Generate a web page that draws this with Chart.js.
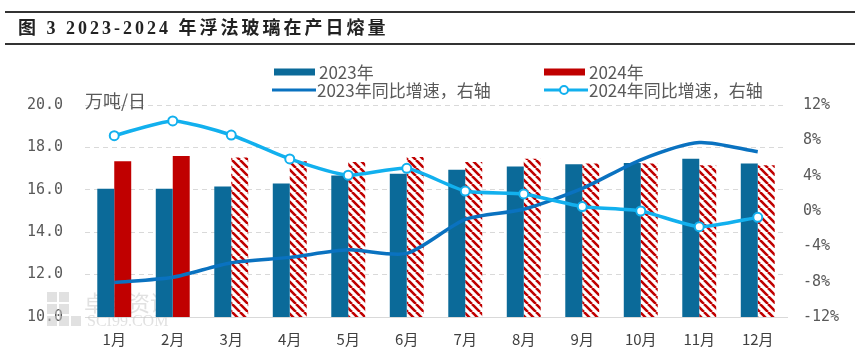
<!DOCTYPE html>
<html>
<head>
<meta charset="utf-8">
<script src="https://cdn.jsdelivr.net/npm/chart.js@4.4.0/dist/chart.umd.min.js"></script>
<style>
  body { margin: 0; background: #fff; }
  #wrap { position: relative; width: 859px; height: 361px; }
  #glassChart { position: absolute; left: 0; top: 0; }
  #title {
    position: absolute; left: 5px; right: 4px; top: 11px; height: 30px;
    border-top: 2px solid #333; border-bottom: 2px solid #333;
    font: bold 18px "Liberation Serif", "Noto Sans CJK SC", serif; color: #222;
    letter-spacing: 3px;
    line-height: 30px; padding-left: 13px;
  }
</style>
</head>
<body>
<div id="wrap">
  <canvas id="glassChart" width="859" height="361"></canvas>
  <div id="title">图 3 2023-2024 年浮法玻璃在产日熔量</div>
</div>
<script>
// data
const months = ['1月', '2月', '3月', '4月', '5月', '6月', '7月', '8月', '9月', '10月', '11月', '12月'];
const output2023 = [16.05, 16.05, 16.15, 16.3, 16.68, 16.76, 16.95, 17.1, 17.2, 17.27, 17.47, 17.24];
const output2024 = [17.35, 17.6, 17.52, 17.35, 17.31, 17.55, 17.31, 17.47, 17.24, 17.24, 17.16, 17.16];
const growth2023 = [-8.1, -7.5, -5.85, -5.25, -4.4, -4.8, -0.95, 0.2, 2.55, 5.8, 7.75, 6.7];
const growth2024 = [8.53, 10.2, 8.6, 5.9, 4.05, 4.83, 2.26, 1.93, 0.5, 0.0, -1.78, -0.72];
const actual2024Months = 2; // later months drawn hatched

const blue = '#0b6a99';
const red = '#c00000';
const lineBlue = '#0a72c0';
const lightBlue = '#12b0ee';

function stripePattern(color) {
  const c = document.createElement('canvas');
  c.width = 8; c.height = 8;
  const g = c.getContext('2d');
  g.fillStyle = '#fff';
  g.fillRect(0, 0, 8, 8);
  g.strokeStyle = color;
  g.lineWidth = 2.6;
  g.beginPath();
  for (const k of [-8, 0, 8]) {
    g.moveTo(k, 0);
    g.lineTo(k + 8, 8);
  }
  g.stroke();
  return g.createPattern(c, 'repeat');
}
const hatch = stripePattern(red);

// legend in two columns, plus axis unit and watermark
const legendSpots = [[274, 72], [544, 72], [272, 90], [544, 90]];
const extrasPlugin = {
  id: 'extras',
  beforeDatasetsDraw(chart) {
    const c = chart.ctx;
    c.save();
    c.fillStyle = 'rgba(200,200,200,0.55)';
    [[47, 292], [59, 292], [47, 304], [59, 304], [47, 316], [59, 316], [71, 316]].forEach(([x, y]) => c.fillRect(x, y, 10, 10));
    c.font = '22px "Noto Sans CJK SC"';
    c.textBaseline = 'middle';
    c.fillText('卓创资讯', 84, 303);
    c.font = '16px "Liberation Serif"';
    c.fillText('SCI99.COM', 87, 322);
    c.restore();
  },
  afterDraw(chart) {
    const c = chart.ctx;
    c.save();
    c.textBaseline = 'middle';
    c.font = '18px "Noto Sans CJK SC"';
    c.fillStyle = '#595959';
    c.fillText('万吨/日', 85, 101);
    c.font = '17px "Noto Sans CJK SC"';
    chart.data.datasets.forEach((ds, i) => {
      const [x, y] = legendSpots[i];
      if (ds.type === 'bar') {
        c.fillStyle = i === 0 ? blue : red;
        c.fillRect(x, y - 3.5, 41, 7);
      } else {
        c.strokeStyle = ds.borderColor;
        c.lineWidth = 3;
        c.beginPath();
        c.moveTo(x, y);
        c.lineTo(x + 44, y);
        c.stroke();
        if (ds.pointRadius > 0) {
          c.beginPath();
          c.arc(x + 20, y, 4, 0, Math.PI * 2);
          c.fillStyle = '#fff';
          c.fill();
          c.lineWidth = 2;
          c.stroke();
        }
      }
      c.fillStyle = '#595959';
      c.fillText(ds.label, x + 45, y + 1);
    });
    c.restore();
  }
};

const chart = new Chart(document.getElementById('glassChart').getContext('2d'), {
  data: {
    labels: months,
    datasets: [{
      type: 'bar',
      label: '2023年',
      data: output2023,
      backgroundColor: blue,
      yAxisID: 'y',
      order: 2,
      categoryPercentage: 0.58,
      barPercentage: 1
    }, {
      type: 'bar',
      label: '2024年',
      data: output2024,
      backgroundColor: output2024.map((v, i) => i < actual2024Months ? red : hatch),
      yAxisID: 'y',
      order: 2,
      categoryPercentage: 0.58,
      barPercentage: 1
    }, {
      type: 'line',
      label: '2023年同比增速，右轴',
      data: growth2023,
      borderColor: lineBlue,
      borderWidth: 3.5,
      pointRadius: 0,
      tension: 0.25,
      yAxisID: 'y1',
      order: 1
    }, {
      type: 'line',
      label: '2024年同比增速，右轴',
      data: growth2024,
      borderColor: lightBlue,
      borderWidth: 3.5,
      pointRadius: 4.5,
      pointBorderWidth: 2,
      pointBackgroundColor: '#fff',
      pointBorderColor: lightBlue,
      tension: 0.2,
      yAxisID: 'y1',
      order: 0
    }]
  },
  options: {
    responsive: false,
    animation: false,
    layout: { padding: { top: 105, left: 0, right: 0, bottom: 0 } },
    plugins: {
      legend: { display: false },
      tooltip: { enabled: false }
    },
    scales: {
      x: {
        grid: { display: false },
        border: { display: true, color: '#d9d9d9', width: 1 },
        ticks: { color: '#404040', font: { family: 'Noto Sans CJK SC', size: 15 }, padding: 5 },
        afterFit(scale) { scale.height = 44; }
      },
      y: {
        position: 'left',
        min: 10,
        max: 20,
        ticks: {
          stepSize: 2,
          color: '#595959',
          font: { family: 'DejaVu Sans Mono', size: 15 },
          padding: 22,
          callback: v => v.toFixed(1)
        },
        grid: { color: '#d9d9d9', drawTicks: false },
        border: { display: false, dash: [5, 4] },
        afterFit(scale) { scale.width = 85; }
      },
      y1: {
        position: 'right',
        min: -12,
        max: 12,
        ticks: {
          stepSize: 4,
          color: '#595959',
          font: { family: 'DejaVu Sans Mono', size: 15 },
          padding: 16,
          callback: v => v + '%'
        },
        grid: { display: false, drawTicks: false },
        border: { display: false },
        afterFit(scale) { scale.width = 72; }
      }
    }
  },
  plugins: [extrasPlugin]
});
</script>
</body>
</html>
